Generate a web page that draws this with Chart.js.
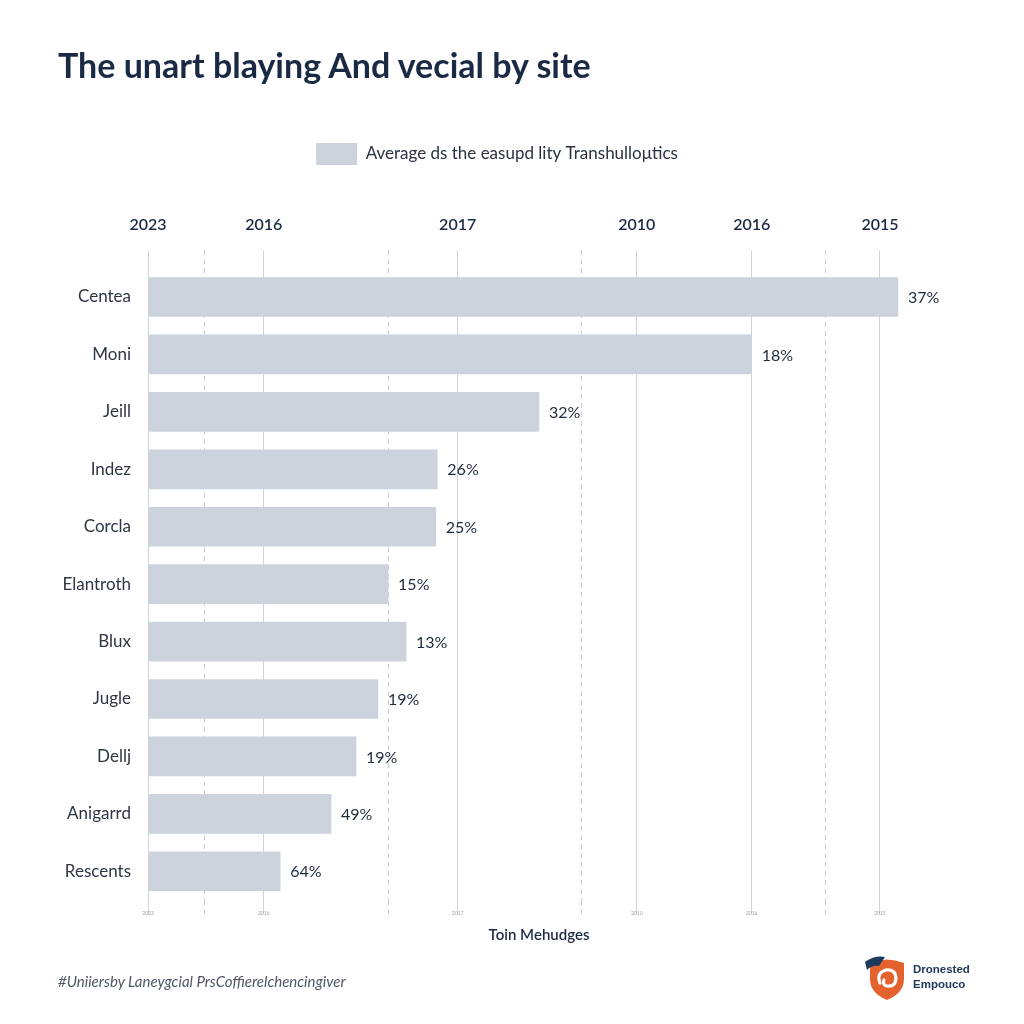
<!DOCTYPE html>
<html>
<head>
<meta charset="utf-8">
<script src="https://cdn.jsdelivr.net/npm/chart.js@4.4.1/dist/chart.umd.min.js"></script>
<style>
  html, body { margin: 0; padding: 0; background: #ffffff; }
  #wrap { position: relative; width: 1024px; height: 1024px; overflow: hidden; }
  #chart { position: absolute; left: 0; top: 0; }
  #title { position: absolute; left: 58px; top: 44px; margin: 0; font: 700 34px Lato, sans-serif; color: #1b2a44; white-space: nowrap; }
  #foot { position: absolute; left: 58px; top: 972px; font: italic 15px Lato, sans-serif; color: #4f5767; white-space: nowrap; }
  #logo { position: absolute; left: 862px; top: 953px; width: 50px; height: 50px; }
  #logotext { position: absolute; left: 913px; top: 962px; font: 700 11.5px "Liberation Sans", Arial, sans-serif; color: #213a5c; line-height: 15px; }
</style>
</head>
<body>
<div id="wrap">
  <canvas id="chart" width="1024" height="1024"></canvas>
  <h1 id="title">The unart blaying And vecial by site</h1>
  <div id="foot">#Uniiersby Laneygcial PrsCoffierelchencingiver</div>
  <svg id="logo" viewBox="0 0 50 50">
    <path d="M8 10 Q25 3 42 10 L42 26 Q42 40 25 47 Q8 40 8 26 Z" fill="#e4622e"/>
    <path d="M3 9 Q13 2 23 4 L17 13 Q10 12 5 17 Z" fill="#1f3a5f"/>
    <path d="M18 30 Q14 20 24 17 Q34 16 34 26 Q33 34 25 33 Q20 32 22 27" fill="none" stroke="#ffffff" stroke-width="3.2" stroke-linecap="round"/>
  </svg>
  <div id="logotext">Dronested<br>Empouco</div>
</div>
<script>
// ---- data ----
const categories = ['Centea', 'Moni', 'Jeill', 'Indez', 'Corcla', 'Elantroth', 'Blux', 'Jugle', 'Dellj', 'Anigarrd', 'Rescents'];
const barValues = [95.9, 77.2, 50.0, 37.0, 36.8, 30.7, 33.0, 29.4, 26.6, 23.4, 16.9];
const valueLabels = ['37%', '18%', '32%', '26%', '25%', '15%', '13%', '19%', '19%', '49%', '64%'];
const majorTickValues = [0, 14.8, 39.6, 62.5, 77.2, 93.6];
const majorTickLabels = ['2023', '2016', '2017', '2010', '2016', '2015'];
const minorTickValues = [7.2, 30.8, 55.4, 86.7];
const seriesLabel = 'Average ds the easupd lity Transhulloμtics';
const axisTitle = 'Toin Mehudges';

// ---- helpers ----
function buildTicks(scale) {
  const t = majorTickValues.map(v => ({ value: v, kind: 'major' }))
    .concat(minorTickValues.map(v => ({ value: v, kind: 'minor' })));
  t.sort((a, b) => a.value - b.value);
  scale.ticks = t;
}
function tickLabel(value) {
  const i = majorTickValues.indexOf(value);
  return i >= 0 ? majorTickLabels[i] : '';
}
const isMinor = ctx => ctx.tick && ctx.tick.kind === 'minor';
const gridColor = ctx => isMinor(ctx) ? '#c9ced6' : '#cfd3da';
const dashFor = ctx => isMinor(ctx) ? [5, 4] : [];

const valueLabelPlugin = {
  id: 'valueLabels',
  afterDatasetsDraw(chart) {
    const ctx = chart.ctx;
    const meta = chart.getDatasetMeta(0);
    ctx.save();
    ctx.font = '16px Lato, sans-serif';
    ctx.fillStyle = '#1f2a3c';
    ctx.textBaseline = 'middle';
    ctx.textAlign = 'left';
    meta.data.forEach((bar, i) => ctx.fillText(valueLabels[i], bar.x + 10, bar.y + 1));
    ctx.restore();
  }
};

// shift the legend's band so that it is centred like the reference
const legendBandPlugin = {
  id: 'legendBand',
  afterLayout(chart) {
    if (chart.legend) { chart.legend.left = 64; }
  }
};

new Chart(document.getElementById('chart'), {
  type: 'bar',
  data: {
    labels: categories,
    datasets: [{
      label: seriesLabel,
      data: barValues,
      backgroundColor: '#cdd3dd',
      borderWidth: 0,
      barThickness: 39,
      xAxisID: 'x',
      yAxisID: 'y'
    }]
  },
  options: {
    indexAxis: 'y',
    responsive: false,
    animation: false,
    devicePixelRatio: 1,
    layout: { padding: { top: 133, left: 20, right: 94, bottom: 80 } },
    plugins: {
      title: { display: false },
      tooltip: { enabled: false },
      legend: {
        display: true,
        position: 'top',
        align: 'center',
        labels: {
          boxWidth: 41,
          boxHeight: 22,
          padding: 10,
          color: '#2a3142',
          font: { family: 'Lato, sans-serif', size: 17 }
        }
      }
    },
    scales: {
      x: {
        type: 'linear',
        position: 'top',
        min: 0,
        max: 100,
        afterBuildTicks: buildTicks,
        afterFit: s => { s.height = 93.3; },
        grid: {
          color: gridColor,
          tickColor: gridColor,
          lineWidth: 1,
          drawTicks: true,
          tickLength: 18,
          tickBorderDash: dashFor
        },
        border: { display: false, dash: dashFor },
        ticks: {
          autoSkip: false,
          maxRotation: 0,
          padding: 15.7,
          color: '#1b2a44',
          font: { family: 'Lato, sans-serif', size: 16, weight: '600' },
          callback: v => tickLabel(v)
        }
      },
      x2: {
        type: 'linear',
        position: 'bottom',
        min: 0,
        max: 100,
        afterBuildTicks: buildTicks,
        afterFit: s => { s.height = 44; },
        grid: {
          drawOnChartArea: false,
          drawTicks: true,
          tickLength: 14,
          color: gridColor,
          tickColor: gridColor,
          tickBorderDash: dashFor
        },
        border: { display: false },
        ticks: {
          autoSkip: false,
          maxRotation: 0,
          padding: -4,
          color: '#9aa0aa',
          font: { family: 'Lato, sans-serif', size: 5 },
          callback: v => tickLabel(v)
        },
        title: {
          display: true,
          text: axisTitle,
          color: '#1b2a44',
          padding: 0,
          font: { family: 'Lato, sans-serif', size: 15, weight: '600' }
        }
      },
      y: {
        type: 'category',
        position: 'left',
        afterFit: s => { s.width = 128; },
        grid: { display: false, drawTicks: false },
        border: { display: false },
        ticks: {
          padding: 17,
          color: '#2e3544',
          font: { family: 'Lato, sans-serif', size: 17 }
        }
      }
    }
  },
  plugins: [valueLabelPlugin, legendBandPlugin]
});
</script>
</body>
</html>
